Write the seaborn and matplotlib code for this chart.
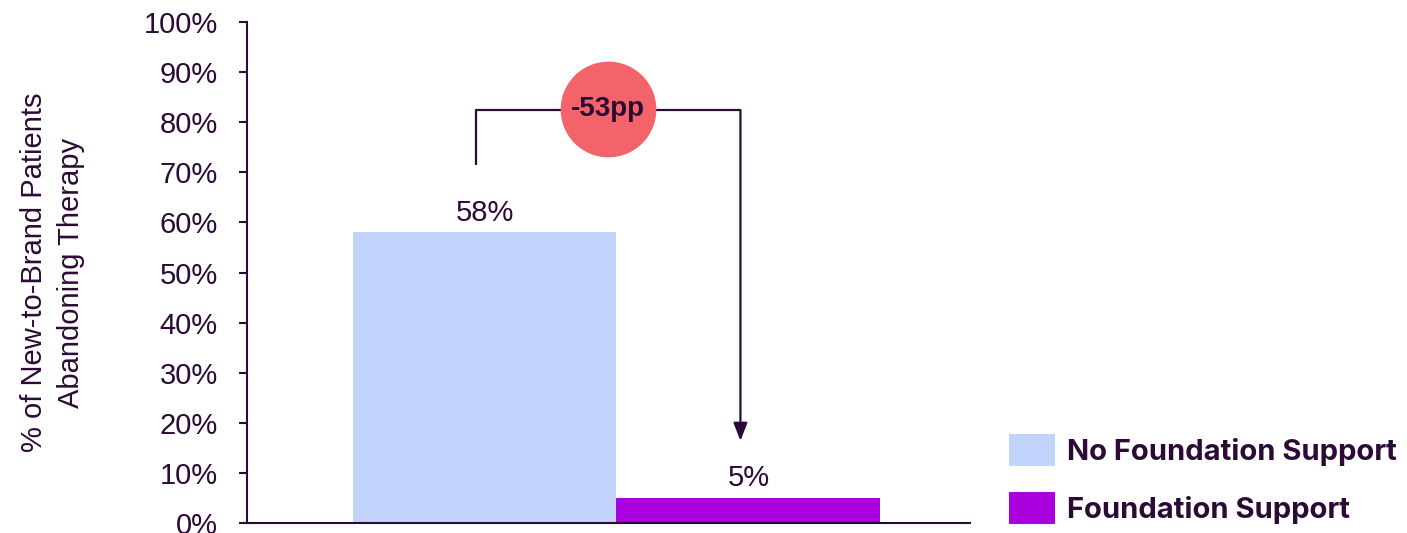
import matplotlib
matplotlib.use("Agg")
import matplotlib.pyplot as plt
from matplotlib.patches import Patch
from matplotlib.ticker import PercentFormatter
import seaborn as sns
import pandas as pd

# Chart data
categories = ["No Foundation Support", "Foundation Support"]
abandon_pct = [58, 5]
change_label = "-53pp"
y_ticks = [0, 10, 20, 30, 40, 50, 60, 70, 80, 90, 100]

# Styling
bar_colors = ["#C3D4FC", "#AA00DD"]
ink = "#2B0A36"
badge_color = "#F2646A"

sns.set_theme(style="white")
plt.rcParams["font.family"] = ["Liberation Sans", "DejaVu Sans"]

df = pd.DataFrame({"group": categories, "pct": abandon_pct})

fig = plt.figure(figsize=(14.07, 5.33), dpi=100)
ax = fig.add_axes([247 / 1407, 10 / 533, 723 / 1407, 501 / 533])

sns.barplot(data=df, x="group", y="pct", hue="group", palette=bar_colors,
            width=1.0, legend=False, ax=ax, saturation=1, linewidth=0)

for cont in ax.containers:
    ax.bar_label(cont, labels=[f"{v:.0f}%" for v in cont.datavalues],
                 padding=4, fontsize=21, color=ink)

ax.set_ylim(0, 100)
ax.set_xlim(-0.90, 1.84)
ax.set_yticks(y_ticks)
ax.yaxis.set_major_formatter(PercentFormatter(decimals=0))
ax.tick_params(axis="y", which="both", left=True, length=6, width=1.5,
               color=ink, labelsize=21, labelcolor=ink, pad=15)
ax.tick_params(axis="x", bottom=False, labelbottom=False)
ax.set_xlabel("")
ax.set_ylabel("% of New-to-Brand Patients\nAbandoning Therapy",
              fontsize=21, color=ink, labelpad=42, linespacing=1.4)

for side in ["top", "right"]:
    ax.spines[side].set_visible(False)
for side in ["left", "bottom"]:
    ax.spines[side].set_color(ink)
    ax.spines[side].set_linewidth(1.5)

# Bracket showing the drop between the two groups
x_start, x_end = -0.034, 0.97
y_base, y_top, y_tip = 71.5, 82.4, 16.4
ax.plot([x_start, x_start, x_end, x_end], [y_base, y_top, y_top, y_top - 0.2],
        color=ink, lw=1.6, solid_capstyle="butt", zorder=3)
ax.annotate("", xy=(x_end, y_tip), xytext=(x_end, y_top),
            arrowprops=dict(arrowstyle="-|>,head_length=0.9,head_width=0.35",
                            color=ink, lw=1.6, shrinkA=0, shrinkB=0),
            zorder=3)

cx = 0.468
ax.scatter([cx], [82.6], s=4750, color=badge_color, zorder=4, linewidths=0)
ax.text(cx, 82.6, change_label, ha="center", va="center", fontsize=20,
        fontweight="bold", color=ink, zorder=5)

handles = [Patch(facecolor=c, edgecolor="none", label=l)
           for c, l in zip(bar_colors, categories)]
leg = fig.legend(handles=handles, loc="lower left",
                 bbox_to_anchor=(1009 / 1407, 9 / 533), frameon=False,
                 borderaxespad=0, borderpad=0,
                 prop={"family": ["Inter", "DejaVu Sans"], "weight": "bold", "size": 21},
                 handlelength=1.58, handleheight=1.3, handletextpad=0.42,
                 labelspacing=0.9, labelcolor=ink)

fig.savefig("out.png", dpi=100, facecolor="white")
